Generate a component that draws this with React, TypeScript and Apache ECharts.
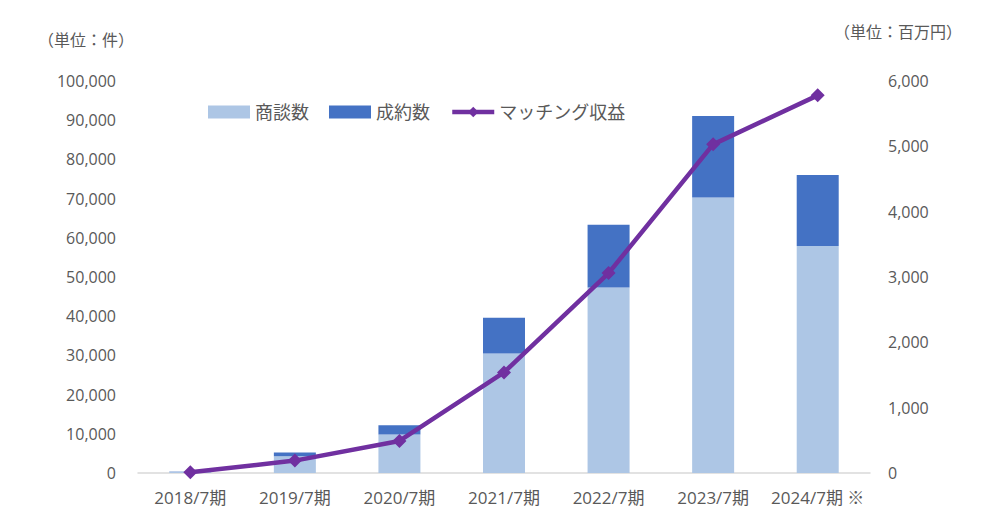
import { useEffect, useRef } from "react";
import * as echarts from "echarts";

const periods = ["2018/7期", "2019/7期", "2020/7期", "2021/7期", "2022/7期", "2023/7期", "2024/7期 ※"];
const meetings = [300, 4300, 9800, 30500, 47300, 70300, 57900];
const contracts = [60, 900, 2400, 9100, 16000, 20800, 18100];
const revenue = [10, 190, 490, 1540, 3060, 5030, 5780];

const FONT = "'Open Sans', 'Noto Sans CJK JP', sans-serif";
const TEXT = "#595959";

export default function App() {
  const ref = useRef<HTMLDivElement>(null);

  useEffect(() => {
    document.body.style.margin = "0";
    const el = ref.current;
    if (!el) return;
    const chart = echarts.init(el, null, { renderer: "svg" });

    chart.setOption({
      animation: false,
      textStyle: { fontFamily: FONT },
      grid: { left: 138, right: 130, top: 81, bottom: 49 },
      legend: {
        left: 203,
        top: 98,
        itemWidth: 42,
        itemHeight: 13,
        itemGap: 20,
        lineStyle: { width: 4.5 },
        textStyle: { fontSize: 18, color: TEXT, fontFamily: FONT },
        data: [
          { name: "商談数", icon: "rect" },
          { name: "成約数", icon: "rect" },
          { name: "マッチング収益", lineStyle: { width: 4.5 } },
        ],
      },
      graphic: [
        {
          type: "text",
          left: 38,
          top: 32,
          style: { text: "（単位：件）", fontSize: 16, fill: TEXT, fontFamily: FONT },
        },
        {
          type: "text",
          left: 834,
          top: 24,
          style: { text: "（単位：百万円）", fontSize: 16, fill: TEXT, fontFamily: FONT },
        },
      ],
      xAxis: {
        type: "category",
        data: periods,
        axisTick: { show: false },
        axisLine: { lineStyle: { color: "#d9d9d9", width: 1.5 } },
        axisLabel: { color: TEXT, fontSize: 17, margin: 16, interval: 0, fontFamily: FONT },
      },
      yAxis: [
        {
          type: "value",
          min: 0,
          max: 100000,
          interval: 10000,
          splitLine: { show: false },
          axisLabel: {
            color: TEXT,
            fontSize: 16,
            margin: 22,
            fontFamily: FONT,
            formatter: (v: number) => v.toLocaleString("en-US"),
          },
        },
        {
          type: "value",
          min: 0,
          max: 6000,
          interval: 1000,
          splitLine: { show: false },
          axisLabel: {
            color: TEXT,
            fontSize: 16,
            margin: 18,
            fontFamily: FONT,
            formatter: (v: number) => v.toLocaleString("en-US"),
          },
        },
      ],
      series: [
        {
          name: "商談数",
          type: "bar",
          stack: "total",
          data: meetings,
          barWidth: 42,
          itemStyle: { color: "#adc6e5" },
        },
        {
          name: "成約数",
          type: "bar",
          stack: "total",
          data: contracts,
          barWidth: 42,
          itemStyle: { color: "#4472c4" },
        },
        {
          name: "マッチング収益",
          type: "line",
          yAxisIndex: 1,
          data: revenue,
          symbol: "diamond",
          symbolSize: 14,
          lineStyle: { color: "#7030a0", width: 4.5 },
          itemStyle: { color: "#7030a0" },
        },
      ],
    });

    return () => chart.dispose();
  }, []);

  return <div ref={ref} style={{ width: 1000, height: 522 }} />;
}
